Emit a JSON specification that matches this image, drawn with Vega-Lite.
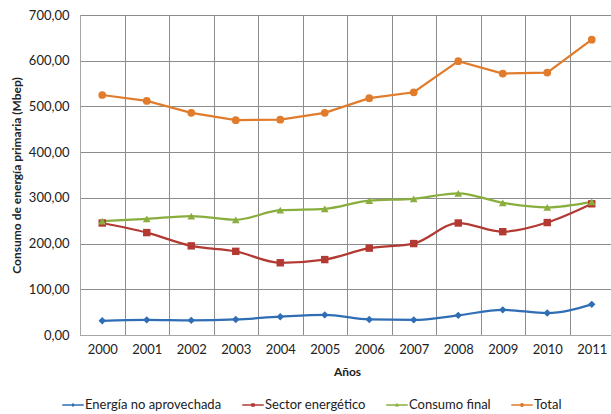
{
  "$schema": "https://vega.github.io/schema/vega-lite/v6.json",
  "autosize": {"type": "none"},
  "padding": {"left": 80, "top": 15, "right": 0, "bottom": 79},
  "width": 531,
  "height": 320,
  "config": {
    "font": "Lato",
    "view": {"stroke": null},
    "axis": {"labelColor": "#222222", "titleColor": "#222222", "labelFontSize": 13, "titleFontSize": 12, "titleFontWeight": "bold"}
  },
  "data": {
    "values": [
      {"anio": "2000", "serie": "Energía no aprovechada", "valor": 31},
      {"anio": "2001", "serie": "Energía no aprovechada", "valor": 33},
      {"anio": "2002", "serie": "Energía no aprovechada", "valor": 32},
      {"anio": "2003", "serie": "Energía no aprovechada", "valor": 34},
      {"anio": "2004", "serie": "Energía no aprovechada", "valor": 40},
      {"anio": "2005", "serie": "Energía no aprovechada", "valor": 44},
      {"anio": "2006", "serie": "Energía no aprovechada", "valor": 34},
      {"anio": "2007", "serie": "Energía no aprovechada", "valor": 33},
      {"anio": "2008", "serie": "Energía no aprovechada", "valor": 43},
      {"anio": "2009", "serie": "Energía no aprovechada", "valor": 55},
      {"anio": "2010", "serie": "Energía no aprovechada", "valor": 48},
      {"anio": "2011", "serie": "Energía no aprovechada", "valor": 67},
      {"anio": "2000", "serie": "Sector energético", "valor": 245},
      {"anio": "2001", "serie": "Sector energético", "valor": 224},
      {"anio": "2002", "serie": "Sector energético", "valor": 195},
      {"anio": "2003", "serie": "Sector energético", "valor": 183},
      {"anio": "2004", "serie": "Sector energético", "valor": 158},
      {"anio": "2005", "serie": "Sector energético", "valor": 165},
      {"anio": "2006", "serie": "Sector energético", "valor": 190},
      {"anio": "2007", "serie": "Sector energético", "valor": 200},
      {"anio": "2008", "serie": "Sector energético", "valor": 245},
      {"anio": "2009", "serie": "Sector energético", "valor": 226},
      {"anio": "2010", "serie": "Sector energético", "valor": 246},
      {"anio": "2011", "serie": "Sector energético", "valor": 287},
      {"anio": "2000", "serie": "Consumo final", "valor": 249},
      {"anio": "2001", "serie": "Consumo final", "valor": 254},
      {"anio": "2002", "serie": "Consumo final", "valor": 260},
      {"anio": "2003", "serie": "Consumo final", "valor": 252},
      {"anio": "2004", "serie": "Consumo final", "valor": 273},
      {"anio": "2005", "serie": "Consumo final", "valor": 276},
      {"anio": "2006", "serie": "Consumo final", "valor": 294},
      {"anio": "2007", "serie": "Consumo final", "valor": 298},
      {"anio": "2008", "serie": "Consumo final", "valor": 310},
      {"anio": "2009", "serie": "Consumo final", "valor": 289},
      {"anio": "2010", "serie": "Consumo final", "valor": 279},
      {"anio": "2011", "serie": "Consumo final", "valor": 291},
      {"anio": "2000", "serie": "Total", "valor": 525},
      {"anio": "2001", "serie": "Total", "valor": 512},
      {"anio": "2002", "serie": "Total", "valor": 486},
      {"anio": "2003", "serie": "Total", "valor": 470},
      {"anio": "2004", "serie": "Total", "valor": 471},
      {"anio": "2005", "serie": "Total", "valor": 486},
      {"anio": "2006", "serie": "Total", "valor": 518},
      {"anio": "2007", "serie": "Total", "valor": 531},
      {"anio": "2008", "serie": "Total", "valor": 599},
      {"anio": "2009", "serie": "Total", "valor": 572},
      {"anio": "2010", "serie": "Total", "valor": 574},
      {"anio": "2011", "serie": "Total", "valor": 646}
    ]
  },
  "encoding": {
    "x": {
      "field": "anio",
      "type": "ordinal",
      "bandPosition": 0.5,
      "scale": {"type": "band", "paddingInner": 0, "paddingOuter": 0, "range": [0, 534]},
      "axis": {
        "title": "Años",
        "labelAngle": 0,
        "tickBand": "extent",
        "ticks": false,
        "labelPadding": 8,
        "titlePadding": 10,
        "grid": true,
        "gridColor": "#8c8c8c",
        "gridOpacity": 1,
        "domainColor": "#a6a6a6"
      }
    },
    "y": {
      "field": "valor",
      "type": "quantitative",
      "scale": {"domain": [0, 700], "nice": false},
      "axis": {
        "title": "Consumo de energía primaria (Mbep)",
        "values": [0, 100, 200, 300, 400, 500, 600, 700],
        "labelExpr": "replace(format(datum.value, '.2f'), '.', ',')",
        "ticks": false,
        "labelPadding": 11,
        "titlePadding": 5,
        "grid": true,
        "gridColor": "#8c8c8c",
        "gridOpacity": 1,
        "domainColor": "#a6a6a6"
      }
    },
    "color": {
      "field": "serie",
      "type": "nominal",
      "scale": {
        "domain": ["Energía no aprovechada", "Sector energético", "Consumo final", "Total"],
        "range": ["#2f6db4", "#b23a33", "#8aae3e", "#e07c2c"]
      },
      "legend": {
        "title": null,
        "orient": "none",
        "direction": "horizontal",
        "legendX": -18,
        "legendY": 379,
        "labelFontSize": 13,
        "labelColor": "#222222",
        "labelOffset": 1,
        "columnPadding": 20,
        "symbolSize": 462,
        "symbolStrokeWidth": 0,
        "encode": {
          "symbols": {
            "update": {
              "shape": {"signal": "datum.value === 'Energía no aprovechada' ? 'M-1,-0.06H-0.12L0,-0.18L0.12,-0.06H1V0.06H0.12L0,0.18L-0.12,0.06H-1Z' : datum.value === 'Sector energético' ? 'M-1,-0.06H-0.17V-0.17H0.17V-0.06H1V0.06H0.17V0.17H-0.17V0.06H-1Z' : datum.value === 'Consumo final' ? 'M-1,-0.06H-0.075L0,-0.2L0.075,-0.06H1V0.06H0.14L0.19,0.15H-0.19L-0.14,0.06H-1Z' : 'M-1,-0.06H-0.17A0.18,0.18 0 0 1 0.17,-0.06H1V0.06H0.17A0.18,0.18 0 0 1 -0.17,0.06H-1Z'"},
              "fill": {"signal": "scale('color', datum.value)"},
              "stroke": {"value": "transparent"},
              "strokeWidth": {"value": 0}
            }
          }
        }
      }
    }
  },
  "layer": [
    {
      "transform": [{"filter": "datum.serie !== 'Total'"}],
      "mark": {"type": "line", "interpolate": "monotone", "strokeWidth": 2.25}
    },
    {
      "transform": [{"filter": "datum.serie === 'Total'"}],
      "mark": {"type": "line", "strokeWidth": 2.25}
    },
    {
      "transform": [{"filter": "datum.serie === 'Energía no aprovechada'"}],
      "mark": {"type": "point", "filled": true, "opacity": 1, "size": 55, "shape": "diamond"}
    },
    {
      "transform": [{"filter": "datum.serie === 'Sector energético'"}],
      "mark": {"type": "point", "filled": true, "opacity": 1, "size": 55, "shape": "square"}
    },
    {
      "transform": [{"filter": "datum.serie === 'Consumo final'"}],
      "mark": {"type": "point", "filled": true, "opacity": 1, "size": 60, "shape": "triangle-up"}
    },
    {
      "transform": [{"filter": "datum.serie === 'Total'"}],
      "mark": {"type": "point", "filled": true, "opacity": 1, "size": 60, "shape": "circle"}
    }
  ]
}
